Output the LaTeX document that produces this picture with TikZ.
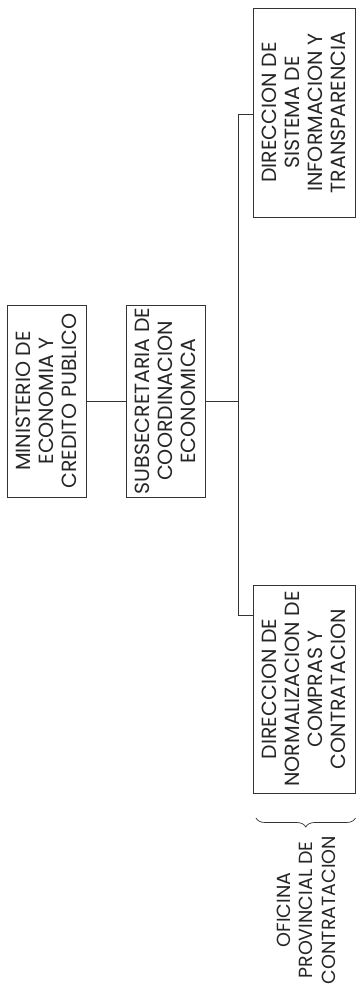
\documentclass[tikz,border=0pt]{standalone}
\usepackage{fontspec}
\setmainfont{Poppins}
\usetikzlibrary{decorations.pathreplacing,calc}
\tikzset{
  orgbox/.style={draw=black!80, line width=0.8pt, rotate=90, align=center, inner sep=0pt,
    font=\fontsize{20.5}{23}\selectfont, text=black!85},
  link/.style={draw=black!80, line width=0.8pt},
  lbl/.style={rotate=90, align=center, inner sep=0pt, font=\fontsize{19}{22.5}\selectfont, text=black!85}
}
\begin{document}
\begin{tikzpicture}[x=1pt,y=1pt]
\useasboundingbox (0,0) rectangle (356,-990);
\node[orgbox, minimum width=192, minimum height=79] (b1) at (46.5,-401) {MINISTERIO DE\\ECONOMIA Y\\CREDITO PUBLICO};
\node[orgbox, minimum width=192, minimum height=79] (b2) at (165.5,-401) {SUBSECRETARIA DE\\COORDINACION\\ECONOMICA};
\node[orgbox, minimum width=209, minimum height=102] (b3) at (304,-112.5) {DIRECCION DE\\SISTEMA DE\\INFORMACION Y\\TRANSPARENCIA};
\node[orgbox, minimum width=208, minimum height=102] (b4) at (304,-689) {DIRECCION DE\\NORMALIZACION DE\\COMPRAS Y\\CONTRATACION};
\coordinate (tm) at (238,-401);
\coordinate (t3) at (238,-114);
\coordinate (t4) at (238,-615);
\draw[link] (b1.south) -- (b2.north);
\draw[link] (b2.south) -- (tm);
\draw[link] (t3 -| b3.north) -- (t3) -- (t4) -- (t4 -| b4.north);
\coordinate (br1) at (355.5,-818);
\coordinate (br2) at (256,-818);
\draw[link, line width=0.7pt, decorate, decoration={brace, amplitude=9pt}] (br1) -- (br2);
\node[lbl] (ofi) at (306,-910) {OFICINA\\PROVINCIAL DE\\CONTRATACION};
\end{tikzpicture}
\end{document}
